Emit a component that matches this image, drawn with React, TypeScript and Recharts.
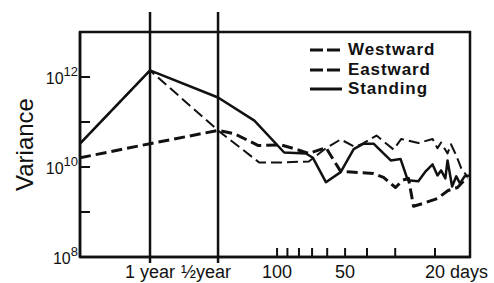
import { Legend, Line, LineChart, ReferenceArea, ReferenceLine, XAxis, YAxis } from "recharts";

const FONT = '"Liberation Sans", Arial, Helvetica, sans-serif';
const INK = "#111";

// x = period in days (log axis, long periods on the left), y = variance
const standingPeriods = [745, 365, 182.5, 126, 93, 74.5, 69.4, 60.8, 52.3, 45.8, 41.4, 37.4, 33.8, 31.4, 28.4, 26.4, 23.7, 22.0, 20.5, 19.5, 18.8, 18.0, 17.6, 16.8, 16.1, 15.5, 14.8, 14.0];
const standingVariance = [3.3e10, 1.4e12, 3.5e11, 1.07e11, 2.1e10, 2.0e10, 1.6e10, 4.6e9, 7.7e9, 2.5e10, 3.3e10, 3.3e10, 2.0e10, 1.4e10, 1.5e10, 5.1e9, 4.8e9, 8.0e9, 1.14e10, 6.5e9, 8.4e9, 5.6e9, 1.4e10, 3.7e9, 6.2e9, 4.3e9, 6.2e9, 6.5e9];

const westwardPeriods = [745, 365, 182.5, 154.7, 121, 96, 85, 72.3, 60.8, 52.3, 47.2, 37.4, 33.8, 29.9, 27.8, 26.2, 24.9, 22.5, 19.5, 17.5, 15.9, 14.4];
const westwardVariance = [1.6e10, 3.3e10, 6.5e10, 5.5e10, 3.0e10, 3.1e10, 2.6e10, 2.0e10, 2.7e10, 8.0e9, 7.7e9, 7.2e9, 5.9e9, 3.5e9, 5.1e9, 5.6e9, 1.34e9, 1.56e9, 2.0e9, 3.0e9, 3.5e9, 5.9e9];

const eastwardPeriods = [745, 365, 182.5, 120, 96, 72.3, 60.8, 52.3, 45.3, 41.8, 36.3, 30.5, 28.2, 23.7, 20.5, 19.5, 18.8, 17.6, 17.0, 16.1, 15.3, 14.4];
const eastwardVariance = [3.3e10, 1.4e12, 6.5e10, 1.26e10, 1.26e10, 1.33e10, 2.6e10, 4.1e10, 2.8e10, 3.3e10, 5.0e10, 2.45e10, 4.2e10, 3.4e10, 4.2e10, 2.6e10, 3.5e10, 2.0e10, 3.2e10, 1.8e10, 9.3e9, 6.2e9];

const seriesNames = ["Westward", "Eastward", "Standing"];

const xTicks = [365, 182.5, 100, 90, 80, 70, 60, 50, 40, 30, 20];
const xTickLabels: Record<string, string> = { "365": "1 year", "182.5": "½year", "100": "100", "50": "50", "20": "20 days" };
const yearLines = [365, 182.5];
const yTicks = [1e8, 1e9, 1e10, 1e11, 1e12];
const yLabelExponents = [8, 10, 12];

const toPoints = (periods: number[], values: number[]) =>
  periods.map((period, i) => ({ period, variance: values[i] }));

const westward = toPoints(westwardPeriods, westwardVariance);
const eastward = toPoints(eastwardPeriods, eastwardVariance);
const standing = toPoints(standingPeriods, standingVariance);

const lineStyles: Record<string, { width: number; dash?: string }> = {
  Westward: { width: 3, dash: "11 5" },
  Eastward: { width: 2, dash: "11 5" },
  Standing: { width: 2.5 },
};

function XTick({ x, y, payload }: any) {
  const label = xTickLabels[String(payload.value)];
  if (!label) return null;
  let anchor: "middle" | "start" = "middle";
  let tx = x;
  if (payload.value === 182.5) tx = x - 12;
  if (payload.value === 20) {
    anchor = "start";
    tx = x - 10;
  }
  return (
    <text x={tx} y={y} dy="0.71em" textAnchor={anchor} fontFamily={FONT} fontSize={18} fill={INK}>
      {label}
    </text>
  );
}

function YTick({ x, y, payload }: any) {
  const exp = Math.round(Math.log10(payload.value));
  if (!yLabelExponents.includes(exp)) return null;
  return (
    <text x={x} y={y} textAnchor="end" fontFamily={FONT} fill={INK}>
      <tspan fontSize={16} dy={7}>10</tspan>
      <tspan fontSize={13} dy={-8}>{exp}</tspan>
    </text>
  );
}

function LegendBox() {
  return (
    <div style={{ fontFamily: FONT, fontWeight: 700, fontSize: 17, letterSpacing: 0.9, lineHeight: "19.5px", color: INK }}>
      {seriesNames.map((name) => {
        const s = lineStyles[name];
        return (
          <div key={name} style={{ display: "flex", alignItems: "center", height: 19.5 }}>
            <svg width={32} height={19} style={{ marginRight: 6 }}>
              <line x1={0} x2={32} y1={10} y2={10} stroke={INK} strokeWidth={3} strokeDasharray={s.dash ? "13 4" : undefined} />
            </svg>
            <span>{name}</span>
          </div>
        );
      })}
    </div>
  );
}

export default function App() {
  return (
    <div style={{ position: "absolute", left: 0, top: 0, width: 494, height: 283, background: "#fff" }}>
      <LineChart width={494} height={283} margin={{ top: 32, right: 24, bottom: 0, left: 0 }}>
        <XAxis
          dataKey="period"
          type="number"
          scale="log"
          domain={[14, 745]}
          reversed
          allowDataOverflow
          ticks={xTicks}
          interval={0}
          height={26}
          tickSize={-9}
          tickMargin={17}
          tick={<XTick />}
          axisLine={{ stroke: INK, strokeWidth: 2.5 }}
          tickLine={{ stroke: INK, strokeWidth: 2 }}
        />
        <YAxis
          type="number"
          scale="log"
          domain={[1e8, 1e13]}
          allowDataOverflow
          ticks={yTicks}
          interval={0}
          width={80}
          tickSize={-10}
          tickMargin={12}
          tick={<YTick />}
          axisLine={{ stroke: INK, strokeWidth: 2.5 }}
          tickLine={{ stroke: INK, strokeWidth: 2 }}
          label={{ value: "Variance", angle: -90, position: "center", dx: -16, style: { fontFamily: FONT, fontSize: 24, fill: INK } }}
        />
        <ReferenceArea x1={745} x2={14} y1={1e8} y2={1e13} fill="none" stroke={INK} strokeWidth={2.5} />
        {yearLines.map((p) => (
          <ReferenceLine
            key={p}
            x={p}
            stroke={INK}
            strokeWidth={2.5}
            shape={(props: any) => (
              <line
                x1={props.x1}
                x2={props.x2}
                y1={Math.min(props.y1, props.y2) - 20}
                y2={Math.max(props.y1, props.y2) + 6}
                stroke={INK}
                strokeWidth={2.5}
              />
            )}
          />
        ))}
        <Line data={westward} dataKey="variance" name="Westward" stroke={INK} strokeWidth={lineStyles.Westward.width} strokeDasharray={lineStyles.Westward.dash} dot={false} isAnimationActive={false} strokeLinejoin="round" />
        <Line data={eastward} dataKey="variance" name="Eastward" stroke={INK} strokeWidth={lineStyles.Eastward.width} strokeDasharray={lineStyles.Eastward.dash} dot={false} isAnimationActive={false} strokeLinejoin="round" />
        <Line data={standing} dataKey="variance" name="Standing" stroke={INK} strokeWidth={lineStyles.Standing.width} dot={false} isAnimationActive={false} strokeLinejoin="round" />
        <Legend
          layout="vertical"
          align="center"
          verticalAlign="middle"
          content={() => <LegendBox />}
          wrapperStyle={{ left: 310, top: 40, width: "auto", height: "auto" }}
        />
      </LineChart>
    </div>
  );
}
